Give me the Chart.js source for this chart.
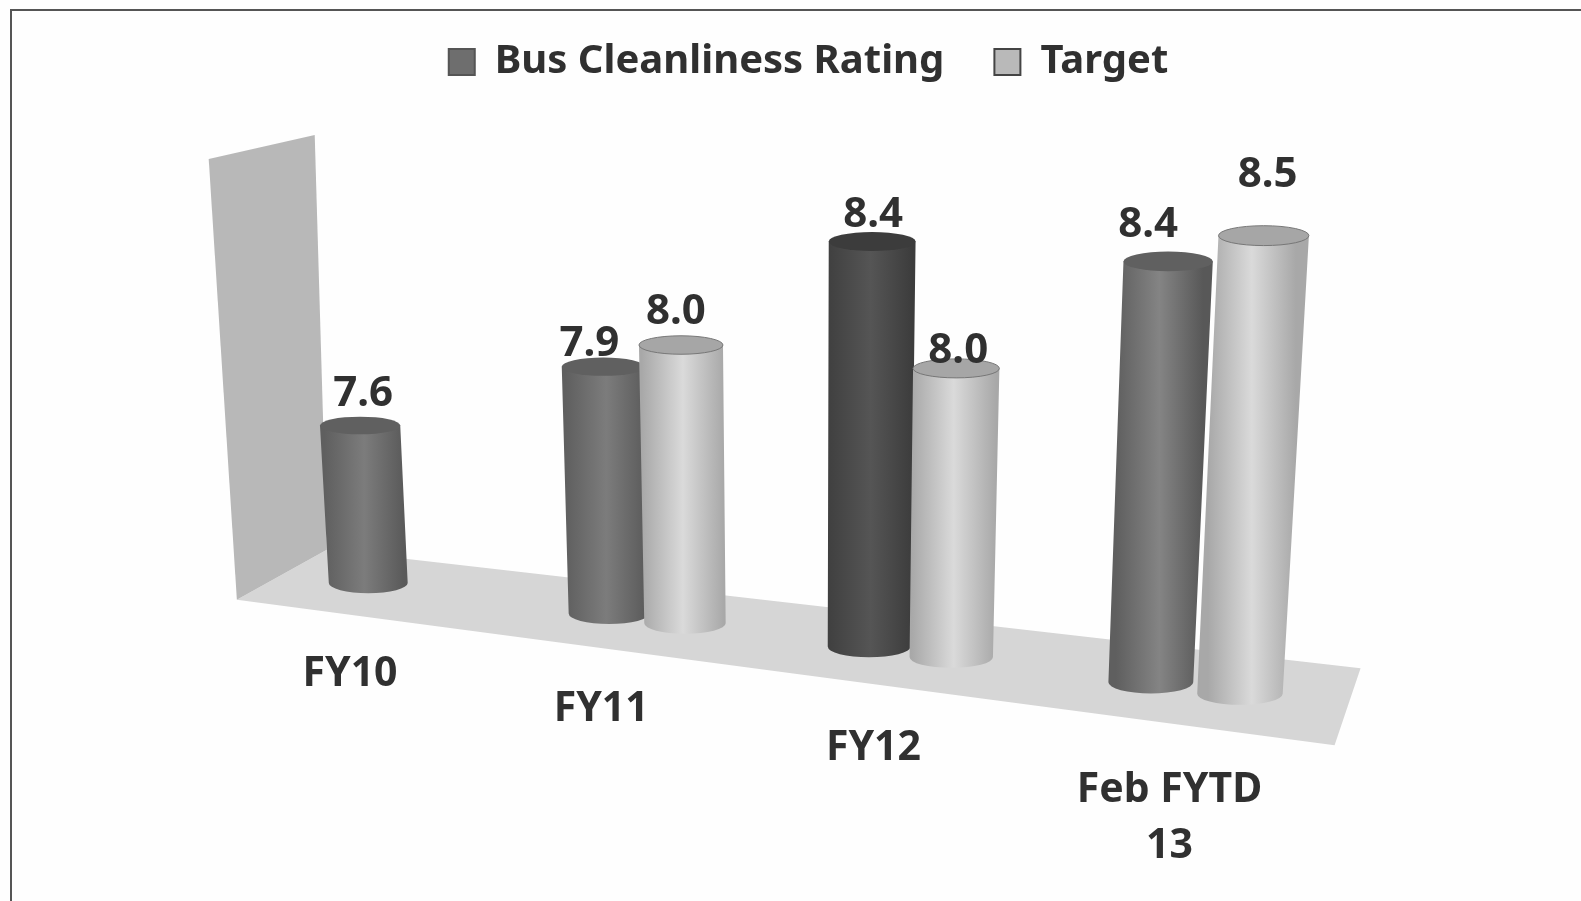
<!DOCTYPE html>
<html><head><meta charset="utf-8">
<style>
html,body{margin:0;padding:0;background:#fefefe;overflow:hidden}
#wrap{position:relative;width:1581px;height:901px}
#frame{position:absolute;left:10px;top:9px;right:0;bottom:0;border-left:2px solid #555;border-top:2px solid #555}
canvas{position:absolute;left:0;top:0}
</style>
<script src="https://cdn.jsdelivr.net/npm/chart.js@4/dist/chart.umd.min.js"></script>
</head><body><div id="wrap"><div id="frame"></div><canvas id="c" width="1581" height="901"></canvas></div>
<script>
const categories = ["FY10", "FY11", "FY12", ["Feb FYTD", "13"]];
const ratingValues = [7.6, 7.9, 8.4, 8.4];
const targetValues = [null, 8.0, 8.0, 8.5];
const seriesNames = ["Bus Cleanliness Rating", "Target"];

const FONT = '"Noto Sans"';
const INK = '#303030';
const ratingShades = [['#5f5f5f','#7c7c7c','#5a5a5a','#606060'],['#5f5f5f','#7c7c7c','#5a5a5a','#606060'],['#404040','#555555','#3c3c3c','#3c3c3c'],['#5f5f5f','#848484','#585858','#606060']];
const targetShade = ['#a8a8a8','#dadada','#a8a8a8','#a6a6a6'];
// hand-placed data label shifts from the cylinder top, per series and category
const labelShift = [
  [[3,-31],[-14,-23],[1,-26],[-20,-36]],
  [null,[-5,-33],[2,-17],[4,-61]]
];
// perspective of the 3-D plot: (category fraction, value above axis minimum) -> screen
const K = 1.0083;
function project(u, v){
  const w = 1 - 0.146*u - 0.03*v;
  return {x: K*(855*u - 24*v + 285.5)/w, y: K*(31*u - 269.5*v + 568)/w};
}
function quad(ctx, pts, fill){
  ctx.beginPath(); pts.forEach((p,i)=> i?ctx.lineTo(p.x,p.y):ctx.moveTo(p.x,p.y)); ctx.closePath();
  ctx.fillStyle = fill; ctx.fill();
}
const off = (p,dx,dy)=>({x:p.x+dx,y:p.y+dy});
const cylinder3d = {
  id:'cylinder3d',
  beforeDraw(chart){
    const s = chart.scales.x;
    const items = s.getLabelItems(chart.chartArea);
    if(items.placed) return;
    items.forEach((it,i)=>{
      const uc = (s.getPixelForTick(i)-chart.chartArea.left)/chart.chartArea.width;
      const p = project(uc*1.06-0.07, -0.37);
      it.textOffset = 0;
      it.options.translation = [p.x,p.y];
      it.options.textAlign = 'center';
      it.options.textBaseline = 'middle';
    });
    items.placed = true;
  },
  beforeDatasetsDraw(chart){
    const ctx = chart.ctx, y = chart.scales.y, span = y.max-y.min;
    const p0 = project(0,0), p1 = project(1,0), pt = project(0,span);
    const FL = off(p0,-51,27), BL = off(p0,39,-23), BR = off(p1,14,-39), FR = off(p1,-12,38);
    quad(ctx,[FL,BL,BR,FR],'#d6d6d6');
    quad(ctx,[off(pt,-53,14),off(pt,53,-10),BL,FL],'#b8b8b8');
  },
  beforeDatasetDraw(){ return false; },
  afterDatasetsDraw(chart){
    const ctx = chart.ctx, a = chart.chartArea, ys = chart.scales.y;
    const labels = [];
    chart.data.datasets.forEach((ds,di)=>{
      chart.getDatasetMeta(di).data.forEach((el,i)=>{
        const val = ds.data[i];
        if(val==null) return;
        const uc = (el.x-a.left)/a.width, du = el.width/2/a.width*(1.12-0.22*uc);
        const v = ys.getValueForPixel(el.y)-ys.min;
        const bl = project(uc-du,0), br = project(uc+du,0), tl = project(uc-du,v), tr = project(uc+du,v);
        const brx = (br.x-bl.x)/2, trx = (tr.x-tl.x)/2;
        const bc = {x:(bl.x+br.x)/2,y:(bl.y+br.y)/2}, tc = {x:(tl.x+tr.x)/2,y:(tl.y+tr.y)/2};
        const sh = di===0 ? ratingShades[i] : targetShade;
        const g = ctx.createLinearGradient((tl.x+bl.x)/2,0,(tr.x+br.x)/2,0);
        g.addColorStop(0,sh[0]); g.addColorStop(0.5,sh[1]); g.addColorStop(1,sh[2]);
        ctx.save();
        ctx.beginPath();
        ctx.moveTo(tc.x-trx,tc.y);
        ctx.lineTo(bc.x-brx,bc.y);
        ctx.ellipse(bc.x,bc.y,brx,brx*0.26,0,Math.PI,0,true);
        ctx.lineTo(tc.x+trx,tc.y);
        ctx.closePath();
        ctx.fillStyle = g; ctx.fill();
        ctx.beginPath();
        ctx.ellipse(tc.x,tc.y,trx,trx*0.22,0,0,Math.PI*2);
        ctx.fillStyle = sh[3]; ctx.fill();
        if(di===1){ ctx.strokeStyle='#777'; ctx.lineWidth=1; ctx.stroke(); }
        ctx.restore();
        const sft = labelShift[di][i];
        labels.push({t:val.toFixed(1),x:tc.x+sft[0],y:tc.y+sft[1]});
      });
    });
    ctx.save();
    ctx.font = '700 42px '+FONT; ctx.fillStyle = INK; ctx.textAlign='center'; ctx.textBaseline='middle';
    labels.forEach(l=>ctx.fillText(l.t,l.x,l.y));
    ctx.restore();
  }
};
new Chart(document.getElementById('c'),{
  type:'bar',
  data:{labels:categories,datasets:[
    {label:seriesNames[0],data:ratingValues,backgroundColor:'#6e6e6e',borderColor:'#555555',borderWidth:2},
    {label:seriesNames[1],data:targetValues,backgroundColor:'#b9b9b9',borderColor:'#444444',borderWidth:2}
  ]},
  options:{
    responsive:false,animation:false,
    layout:{padding:{top:-8,left:56,right:20,bottom:10}},
    datasets:{bar:{barPercentage:1.03,categoryPercentage:0.6}},
    plugins:{
      legend:{position:'top',labels:{boxWidth:26,boxHeight:26,padding:50,color:INK,font:{family:FONT,size:40,weight:'700'}}},
      tooltip:{enabled:false},title:{display:false}
    },
    scales:{
      x:{grid:{display:false},border:{display:false},ticks:{mirror:true,autoSkip:false,maxRotation:0,color:INK,font:{family:FONT,size:41,weight:'700',lineHeight:1.36}}},
      y:{display:false,min:7,max:8.6,grid:{display:false}}
    }
  },
  plugins:[cylinder3d]
});
</script></body></html>
